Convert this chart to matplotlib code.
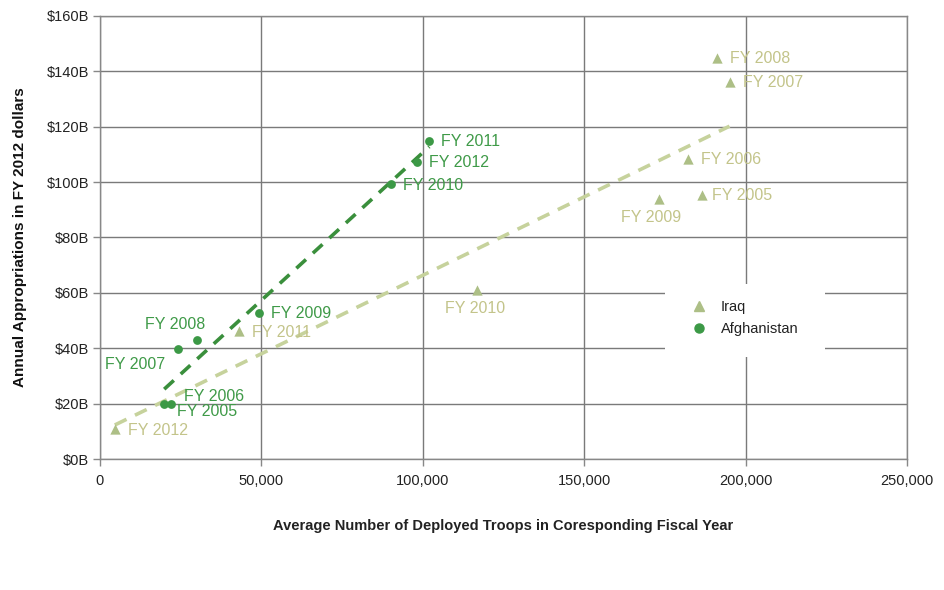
import numpy as np
import matplotlib
matplotlib.use("Agg")
import matplotlib.pyplot as plt
from matplotlib.patches import Rectangle
from matplotlib.lines import Line2D

# Data: average deployed troops (thousands) vs annual appropriations ($B, FY2012 dollars)
iraq_years = ["FY 2005", "FY 2006", "FY 2007", "FY 2008", "FY 2009", "FY 2010", "FY 2011", "FY 2012"]
iraq_troops = [186.4, 182.1, 195.0, 191.0, 173.1, 116.8, 43.1, 4.6]
iraq_cost = [95.3, 108.3, 136.0, 144.7, 93.8, 61.0, 46.2, 11.0]

afgh_years = ["FY 2005", "FY 2006", "FY 2007", "FY 2008", "FY 2009", "FY 2010", "FY 2011", "FY 2012"]
afgh_troops = [22.0, 19.9, 24.2, 30.2, 49.3, 90.0, 102.0, 98.3]
afgh_cost = [19.9, 19.9, 39.8, 42.8, 52.9, 99.2, 115.0, 107.4]

# label offsets in pixels (dx, dy, ha)
iraq_offsets = [(10, 0, "left"), (13, 0, "left"), (13, 0, "left"), (13, 0, "left"),
                (-8, -18, "center"), (-2, -18, "center"), (13, -1, "left"), (13, -2, "left")]
afgh_offsets = [(6, -8, "left"), (20, 7, "left"), (-43, -16, "center"), (-22, 16, "center"),
                (12, -1, "left"), (12, -1, "left"), (12, -1, "left"), (12, -1, "left")]

IRAQ_MARK = "#adbf86"
IRAQ_TEXT = "#c3c48a"
IRAQ_LINE = "#c6d29c"
AFGH_MARK = "#3c9946"
AFGH_TEXT = "#3f9a48"
AFGH_LINE = "#3a8f3c"

plt.rcParams["font.family"] = ["Liberation Sans", "DejaVu Sans"]

fig = plt.figure(figsize=(9.44, 5.9), dpi=100)
ax = fig.add_axes([0.1059, 0.222, 0.855, 0.751])

x_i = np.array(iraq_troops) * 1000
x_a = np.array(afgh_troops) * 1000

# trend lines (least squares)
for xs, ys, col in [(x_i, iraq_cost, IRAQ_LINE), (x_a, afgh_cost, AFGH_LINE)]:
    m, b = np.polyfit(xs, ys, 1)
    xx = np.array([xs.min(), xs.max()])
    ax.plot(xx, m * xx + b, color=col, lw=2.6, ls=(0, (3.6, 2.6)), zorder=2)

ax.scatter(x_i, iraq_cost, marker="^", s=55, color=IRAQ_MARK, zorder=3, linewidths=0)
ax.scatter(x_a, afgh_cost, marker="o", s=40, color=AFGH_MARK, zorder=3, linewidths=0)

for x, y, lab, (dx, dy, ha) in zip(x_i, iraq_cost, iraq_years, iraq_offsets):
    ax.annotate(lab, (x, y), xytext=(dx, dy), textcoords="offset pixels",
                ha=ha, va="center", fontsize=11.5, color=IRAQ_TEXT, zorder=4)
for x, y, lab, (dx, dy, ha) in zip(x_a, afgh_cost, afgh_years, afgh_offsets):
    ax.annotate(lab, (x, y), xytext=(dx, dy), textcoords="offset pixels",
                ha=ha, va="center", fontsize=11.5, color=AFGH_TEXT, zorder=4)

ax.set_xlim(0, 250000)
ax.set_ylim(0, 160)
ax.set_xticks(np.arange(0, 250001, 50000))
ax.set_xticklabels([f"{v:,}" for v in range(0, 250001, 50000)])
ax.set_yticks(np.arange(0, 161, 20))
ax.set_yticklabels([f"${v}B" for v in range(0, 161, 20)])
ax.tick_params(axis="both", colors="#888888", labelcolor="#222222", labelsize=10.5,
               length=5, width=1)
ax.tick_params(axis="x", pad=6)
ax.tick_params(axis="y", pad=3)
ax.grid(True, color="#7a7a7a", lw=1)
ax.set_axisbelow(True)
for sp in ax.spines.values():
    sp.set_color("#888888")
    sp.set_linewidth(1)

ax.set_ylabel("Annual Appropriations in FY 2012 dollars", fontsize=11,
              fontweight="bold", color="#111111", labelpad=14)
ax.set_xlabel("Average Number of Deployed Troops in Coresponding Fiscal Year",
              fontsize=10.5, fontweight="bold", color="#222222", labelpad=22)

# white legend box that hides the grid
ax.add_patch(Rectangle((0.700, 0.230), 0.198, 0.165, transform=ax.transAxes,
                       facecolor="white", edgecolor="none", zorder=1))
handles = [Line2D([], [], marker="^", ls="none", color=IRAQ_MARK, markersize=7.5),
           Line2D([], [], marker="o", ls="none", color=AFGH_MARK, markersize=6.5)]
leg = ax.legend(handles, ["Iraq", "Afghanistan"], loc="center left",
                bbox_to_anchor=(0.715, 0.318), frameon=False, fontsize=10.5,
                handlelength=1.2, handletextpad=0.9, labelspacing=0.55)
for t in leg.get_texts():
    t.set_color("#222222")

fig.savefig("out.png", dpi=100)
